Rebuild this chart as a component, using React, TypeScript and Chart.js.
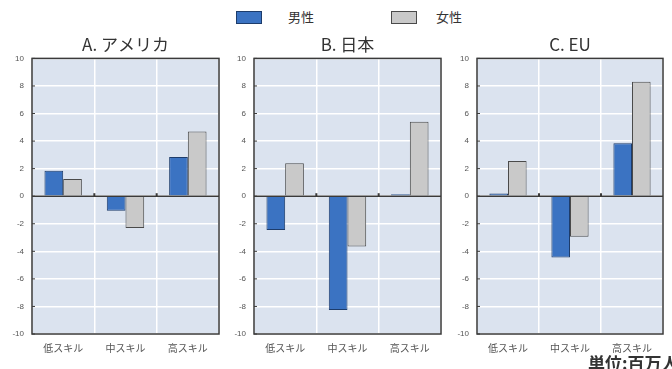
import React, { useEffect, useRef } from "react";
import { Chart, registerables } from "chart.js";
Chart.register(...registerables);

const categories = ["低スキル", "中スキル", "高スキル"];
const seriesNames = ["男性", "女性"];
const panelTitles = ["A. アメリカ", "B. 日本", "C. EU"];
const usMale = [1.85, -1.05, 2.85];
const usFemale = [1.25, -2.3, 4.7];
const jpMale = [-2.45, -8.25, 0.15];
const jpFemale = [2.4, -3.65, 5.4];
const euMale = [0.2, -4.45, 3.85];
const euFemale = [2.55, -2.95, 8.3];
const yTicks = [-10, -8, -6, -4, -2, 0, 2, 4, 6, 8, 10];
const unitLabel = "単位:百万人";

const MALE = "#3b73c2";
const MALE_BORDER = "#1d3c6b";
const FEMALE = "#c9c9c9";
const FEMALE_BORDER = "#4a4a4a";
const PLOT_BG = "#dbe3ef";
const FRAME = "#3a3a3a";

const framePlugin = {
  id: "framePlugin",
  beforeDraw(chart: any) {
    const { ctx, chartArea: a } = chart;
    ctx.save();
    ctx.fillStyle = PLOT_BG;
    ctx.fillRect(a.left, a.top, a.right - a.left, a.bottom - a.top);
    ctx.restore();
  },
  afterDatasetsDraw(chart: any) {
    const { ctx, chartArea: a } = chart;
    const y = chart.scales.y;
    ctx.save();
    const z = y.getPixelForValue(0);
    ctx.strokeStyle = FRAME;
    ctx.lineWidth = 1.5;
    ctx.beginPath();
    ctx.moveTo(a.left, z);
    ctx.lineTo(a.right, z);
    ctx.stroke();
    const n = categories.length;
    const step = (a.right - a.left) / n;
    ctx.lineWidth = 2;
    for (let i = 1; i < n; i++) {
      const bx = a.left + step * i;
      ctx.beginPath();
      ctx.moveTo(bx, z - 3);
      ctx.lineTo(bx, z);
      ctx.stroke();
    }
    ctx.lineWidth = 1;
    yTicks.forEach((t) => {
      const py = y.getPixelForValue(t);
      ctx.beginPath();
      ctx.moveTo(a.left, py);
      ctx.lineTo(a.left + 3, py);
      ctx.stroke();
    });
    ctx.lineWidth = 1.5;
    ctx.strokeRect(a.left, a.top, a.right - a.left, a.bottom - a.top);
    ctx.restore();
  },
};

function Panel(props: { title: string; male: number[]; female: number[]; left: number; width: number }) {
  const ref = useRef<HTMLCanvasElement | null>(null);
  useEffect(() => {
    if (!ref.current) return;
    const chart = new Chart(ref.current, {
      type: "bar",
      data: {
        labels: categories,
        datasets: [
          {
            label: seriesNames[0],
            data: props.male,
            backgroundColor: MALE,
            borderColor: MALE_BORDER,
            borderWidth: 1,
            categoryPercentage: 0.6,
            barPercentage: 1.0,
          },
          {
            label: seriesNames[1],
            data: props.female,
            backgroundColor: FEMALE,
            borderColor: FEMALE_BORDER,
            borderWidth: 1,
            categoryPercentage: 0.6,
            barPercentage: 1.0,
          },
        ],
      },
      options: {
        animation: false,
        responsive: false,
        maintainAspectRatio: false,
        layout: { padding: { right: 4, left: 0, top: 0, bottom: 0 } },
        plugins: {
          legend: { display: false },
          tooltip: { enabled: false },
          title: {
            display: true,
            fullSize: false,
            text: props.title,
            color: "#333333",
            font: { family: "'Noto Sans CJK JP', 'Liberation Sans', sans-serif", size: 17, weight: "normal" },
            padding: { top: 4, bottom: 4 },
          },
        },
        scales: {
          x: {
            offset: true,
            grid: { display: true, offset: true, color: "#ffffff", lineWidth: 1.5, drawTicks: false },
            border: { display: false },
            ticks: {
              color: "#555555",
              font: { family: "'Noto Sans CJK JP', sans-serif", size: 10 },
              padding: 8,
              maxRotation: 0,
            },
            afterFit: (s: any) => {
              s.height = 26;
            },
          },
          y: {
            min: -10,
            max: 10,
            afterBuildTicks: (s: any) => {
              s.ticks = yTicks.map((v) => ({ value: v }));
            },
            grid: { color: "#ffffff", lineWidth: 1.5, drawTicks: false },
            border: { display: false },
            ticks: {
              color: "#555555",
              font: { family: "'Liberation Sans', Arial, sans-serif", size: 8 },
              padding: 8,
            },
            afterFit: (s: any) => {
              s.width = 32;
            },
          },
        },
      },
      plugins: [framePlugin],
    });
    return () => chart.destroy();
  }, []);
  return (
    <canvas
      ref={ref}
      width={props.width}
      height={330}
      style={{ position: "absolute", left: props.left, top: 30, width: props.width, height: 330 }}
    />
  );
}

export default function App() {
  const legendText = { position: "absolute" as const, top: 8, fontSize: 13, color: "#333", fontFamily: "'Noto Sans CJK JP', sans-serif", lineHeight: "18px" };
  return (
    <div style={{ position: "fixed", left: 0, top: 0, width: 672, height: 369, background: "#fff", overflow: "hidden" }}>
      <div style={{ position: "absolute", left: 236, top: 11, width: 24, height: 11, background: MALE, border: `1px solid ${MALE_BORDER}` }} />
      <div style={{ ...legendText, left: 288 }}>{seriesNames[0]}</div>
      <div style={{ position: "absolute", left: 391, top: 11, width: 24, height: 11, background: FEMALE, border: `1px solid ${FEMALE_BORDER}` }} />
      <div style={{ ...legendText, left: 436 }}>{seriesNames[1]}</div>
      <Panel title={panelTitles[0]} male={usMale} female={usFemale} left={0} width={223} />
      <Panel title={panelTitles[1]} male={jpMale} female={jpFemale} left={222} width={223} />
      <Panel title={panelTitles[2]} male={euMale} female={euFemale} left={445} width={222} />
      <div
        style={{
          position: "absolute",
          left: 588,
          top: 353,
          fontSize: 17,
          fontWeight: "bold",
          color: "#333",
          fontFamily: "'Noto Sans CJK JP', sans-serif",
          lineHeight: "20px",
          whiteSpace: "nowrap",
        }}
      >
        {unitLabel}
      </div>
    </div>
  );
}
